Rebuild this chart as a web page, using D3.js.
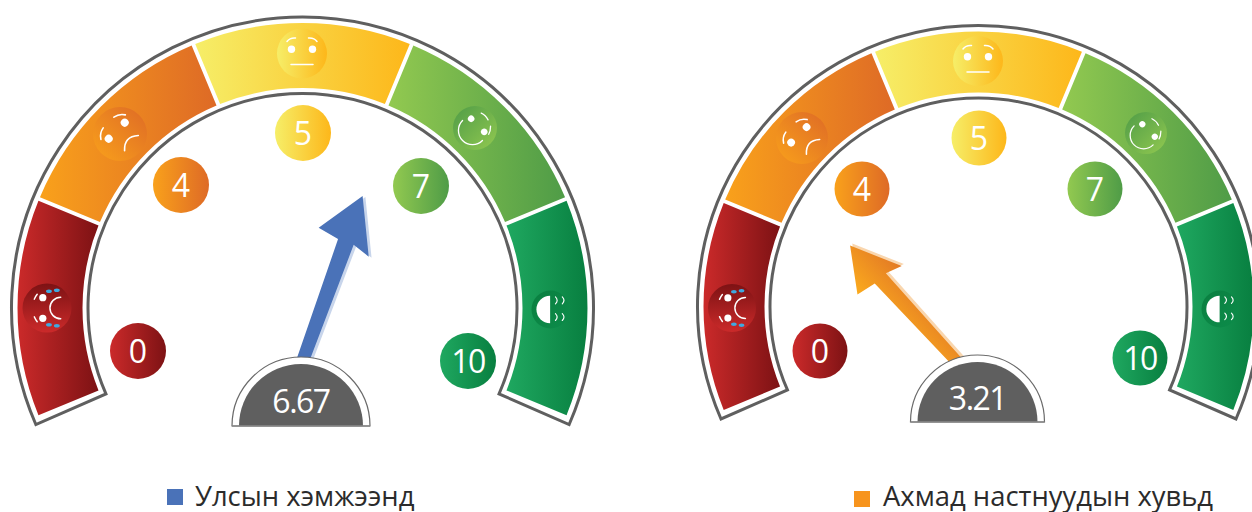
<!DOCTYPE html>
<html>
<head>
<meta charset="utf-8">
<script src="https://cdn.jsdelivr.net/npm/d3@7"></script>
<style>
html,body{margin:0;padding:0;background:#fff;overflow:hidden}
text{font-family:"Open Sans",sans-serif}
</style>
</head>
<body>
<svg id="c" width="1252" height="512"></svg>
<script>
// ---- data ----
const values = [6.67, 3.21];
const valueLabels = ["6.67", "3.21"];
const seriesNames = ["Улсын хэмжээнд", "Ахмад настнуудын хувьд"];
const seriesColors = ["#4a72b8", "#f7941d"];
const tickLabels = ["0", "4", "5", "7", "10"];
const segmentIds = [0, 1, 2, 3, 4];
const segStart = ["#cb2a2a", "#f9a11b", "#f6ee68", "#92c950", "#1fa860"];
const segEnd = ["#7d1214", "#de6a26", "#fdb71a", "#4f9c47", "#087f40"];

// ---- layout ----
const gauges = [
  {cx:302.5, cy:308, R:291, r:214.5, fo:285, fi:220, hx:301, hy:426, hr:69, hd:62, px:295, py:382, len:198, k:1,
   tickPos:[[138,351],[181,185],[303,133],[421,186],[468,361]], tickR:28,
   facePos:[[47,308,24.5],[120,134,27],[302,53.5,25],[475,128,22],[550.5,309.5,19]],
   textY:413, legX:167, legY:489, legTx:195, legTy:506},
  {cx:978.5, cy:306.5, R:281, r:208.5, fo:275, fi:214, hx:977.5, hy:422, hr:67, hd:60, px:972, py:378, len:180, k:0.91,
   tickPos:[[820,351],[862,189],[979,138],[1095,189],[1140,358]], tickR:27.5,
   facePos:[[732,308,24],[802,138,26],[978,61,25],[1146,133,21],[1220,309,18.5]],
   textY:410, legX:854, legY:491, legTx:883, legTy:506}
];

const rad = d => d * Math.PI / 180;
const segAngle = d3.scaleLinear().domain([0, 5]).range([rad(-112.5), rad(112.5)]);
const needleAngle = d3.scaleLinear().domain([0, 10]).range([-100.7, 80.2]);

const svg = d3.select("#c");
const defs = svg.append("defs");

function grad(id, c1, c2, x1=0, y1=0, x2=1, y2=0, units="objectBoundingBox"){
  const g = defs.append("linearGradient").attr("id", id)
    .attr("x1", x1).attr("y1", y1).attr("x2", x2).attr("y2", y2).attr("gradientUnits", units);
  g.append("stop").attr("offset", 0).attr("stop-color", c1);
  g.append("stop").attr("offset", 1).attr("stop-color", c2);
}
segmentIds.forEach(i => grad("seg"+i, segStart[i], segEnd[i]));
// face gradients use the segment colours at each face's own orientation
const faceDir = [[0,1,0,0],[0,1,1,0],[0,0,1,0],[1,1,0,0],[1,1,0,0]];
segmentIds.forEach(i => {
  const d = faceDir[i];
  grad("face"+i, i===4 ? "#0c8c4a" : segStart[i], i===4 ? "#0a7f40" : segEnd[i], d[0], d[1], d[2], d[3]);
});
grad("needle1", "#fbab1d", "#e37a25");

// local face drawing, unit radius 25, rotated per segment
const faceRot = [-90, -45, 0, 45, 90];
const W = "#fff";
function drawFace(g, i){
  const line = p => g.append("path").attr("d", p).attr("fill","none").attr("stroke",W).attr("stroke-width",1.5).attr("stroke-linecap","round");
  const eye = x => g.append("circle").attr("cx",x).attr("cy",-4.3).attr("r",3.7).attr("fill",W);
  if(i===4){
    g.append("path").attr("d","M-18,0.5 A18,18 0 0 0 18,0.5 Z").attr("fill",W);
    [[-12,-8],[-12,-17],[10,-8],[10,-17]].forEach(e =>
      line(`M${e[0]-4.5},${e[1]+1.5} Q${e[0]},${e[1]-3} ${e[0]+4.5},${e[1]+1.5}`));
    return;
  }
  eye(-10.5); eye(10.5);
  if(i===0){
    line("M-11,14 A11,11 0 0 1 11,14");
    line("M-14,-10 Q-11.5,-12 -9,-13"); line("M9,-13 Q11.5,-12 14,-10");
    [[17,2],[18,10],[-17,2],[-18,10]].forEach(t =>
      g.append("ellipse").attr("cx",t[0]).attr("cy",t[1]).attr("rx",1.8).attr("ry",3).attr("fill","#3fa9e0"));
  }
  if(i===1){
    line("M-8,14 Q1,4 11,13");
    line("M-16,-9 Q-13,-14 -7,-15"); line("M7,-15 Q13,-14 16,-9");
  }
  if(i===2){
    line("M-11,11 L11,11");
    line("M-15,-12 Q-12,-16 -6.5,-15.5"); line("M6.5,-15.5 Q12,-16 15,-12");
  }
  if(i===3){
    line("M-16,4 A16,16 0 0 0 16,4");
    line("M-7,-17 Q-2,-19 4,-17"); line("M11,-14 Q15,-10 16,-6");
  }
}

gauges.forEach((G, gi) => {
  const root = svg.append("g");
  const ring = root.append("g").attr("transform", `translate(${G.cx},${G.cy})`);
  const segArc = d3.arc().innerRadius(G.fi).outerRadius(G.fo).padAngle(0.0155).padRadius(250);
  ring.selectAll("path.seg").data(segmentIds).join("path").attr("class","seg")
    .attr("d", i => segArc({startAngle:segAngle(i), endAngle:segAngle(i+1)}))
    .attr("fill", i => `url(#seg${i})`);
  ring.append("path")
    .attr("d", d3.arc().innerRadius(G.r).outerRadius(G.R)({startAngle:rad(-113.6), endAngle:rad(113.6)}))
    .attr("fill","none").attr("stroke","#5f5f5f").attr("stroke-width",3).attr("stroke-linejoin","miter");

  // faces
  const faces = root.selectAll("g.face").data(segmentIds).join("g").attr("class","face")
    .attr("transform", i => `translate(${G.facePos[i][0]},${G.facePos[i][1]})`);
  faces.append("circle").attr("r", i => G.facePos[i][2]).attr("fill", i => `url(#face${i})`);
  faces.append("g")
    .attr("transform", i => `rotate(${faceRot[i]}) scale(${G.facePos[i][2]/25})`)
    .each(function(i){ drawFace(d3.select(this), i); });

  // tick badges
  const ticks = root.selectAll("g.tick").data(segmentIds).join("g").attr("class","tick")
    .attr("transform", i => `translate(${G.tickPos[i][0]},${G.tickPos[i][1]})`);
  ticks.append("circle").attr("r", G.tickR).attr("fill", i => `url(#seg${i})`);
  ticks.append("text").attr("text-anchor","middle").attr("y", 11.5)
    .attr("fill","#fff").attr("font-size",32).attr("font-weight",400)
    .attr("letter-spacing", i => tickLabels[i].length>1 ? -1.5 : 0)
    .text(i => tickLabels[i]);

  // needle
  const k = G.k, L = G.len;
  const needlePath = d3.line()([
    [0,0],[26.5*k,55*k],[8.3*k,49*k],[6*k,L],[-6*k,L],[-8.3*k,49*k],[-30.4*k,45*k]
  ]) + "Z";
  const ang = needleAngle(values[gi]);
  const a = rad(ang);
  const tipX = G.px + L*Math.sin(a), tipY = G.py - L*Math.cos(a);
  const nG = root.append("g").attr("transform", `translate(${tipX},${tipY}) rotate(${ang})`);
  nG.append("path").attr("d", needlePath).attr("transform","translate(3,0)")
    .attr("fill", gi===0 ? "#c8d5eb" : "#f9d6ae");
  nG.append("path").attr("d", needlePath).attr("fill", gi===0 ? seriesColors[0] : "url(#needle1)");

  // hub
  const hub = root.append("g").attr("transform", `translate(${G.hx},${G.hy})`);
  const half = rr => { const p = d3.path(); p.moveTo(-rr,0); p.arc(0,0,rr,Math.PI,0); p.closePath(); return p.toString(); };
  hub.append("path").attr("d", half(G.hr)).attr("fill","#fff").attr("stroke","#6a6a6a").attr("stroke-width",1.2);
  hub.append("path").attr("d", half(G.hd)).attr("fill","#5f5f5f");
  hub.append("line").attr("x1",-G.hr).attr("x2",G.hr).attr("stroke","#8a8a8a").attr("stroke-width",1.5);
  root.append("text").attr("x",G.hx).attr("y",G.textY).attr("text-anchor","middle")
    .attr("fill","#fff").attr("font-size",32).attr("font-weight",400).attr("letter-spacing",-1.5)
    .text(valueLabels[gi]);

  // legend
  root.append("rect").attr("x",G.legX).attr("y",G.legY).attr("width",16).attr("height",16).attr("fill",seriesColors[gi]);
  root.append("text").attr("x",G.legTx).attr("y",G.legTy).attr("fill","#2b2b2b")
    .attr("font-size",27.4).text(seriesNames[gi]);
});
</script>
</body>
</html>
